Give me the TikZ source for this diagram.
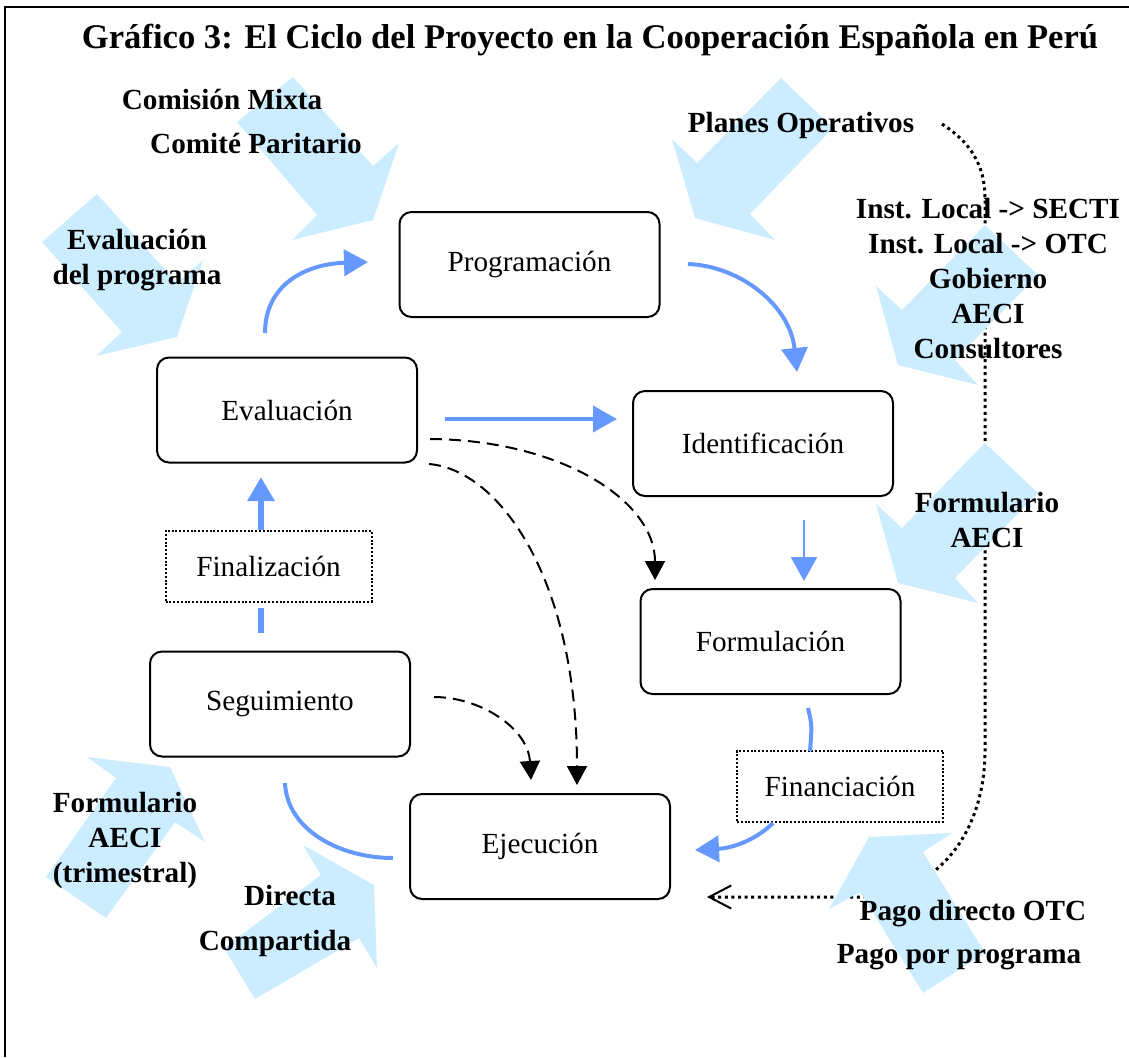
\documentclass[tikz,border=0pt]{standalone}
\usepackage{fontspec}
\setmainfont{Liberation Serif}
\usetikzlibrary{arrows.meta}

\definecolor{paleblue}{RGB}{204,236,255}
\definecolor{flowblue}{RGB}{102,153,255}

\tikzset{
  phase/.style={draw, line width=1pt, rounded corners=6pt, minimum width=130pt, minimum height=52.5pt, inner sep=0pt, font=\fontsize{14.6}{17.5}\selectfont},
  stage/.style={draw, line width=1pt, dash pattern=on 1pt off 0.9pt, minimum width=103pt, minimum height=35.5pt, inner sep=0pt, font=\fontsize{14.6}{17.5}\selectfont},
  actor/.style={anchor=base, align=center, inner sep=0pt, font=\fontsize{14.6}{17.5}\selectfont\bfseries},
  bigarrow/.style={fill=paleblue},
  flow/.style={draw=flowblue, line width=2pt},
  flowtip/.style={flow, -{Triangle[length=12pt,width=13pt]}},
  link/.style={line width=1pt, dash pattern=on 6pt off 3.5pt, -{Triangle[length=9.5pt,width=10pt]}},
  paydot/.style={line width=1.5pt, dash pattern=on 1.5pt off 1.8pt, -{Straight Barb[length=11pt,width=11.5pt,line width=1pt]}}
}

\begin{document}
\begin{tikzpicture}[x=0.5pt,y=-0.5pt]
\useasboundingbox (0,0) rectangle (1129,1057);
\draw[line width=1.3pt] (5,1057) -- (5,7) -- (1129,7);

% dotted payment line (under the big arrows)
\coordinate (payA) at (942,124);
\coordinate (payB) at (707,897);
\draw[paydot] (payA) .. controls (970,142) and (985,165) .. (985,198) -- (985,750)
  .. controls (985,840) and (930,897) .. (860,897) -- (payB);

% big pale arrows
\fill[bigarrow] (293,77) -- (373,166) -- (399,143) -- (373,220) -- (292,240) -- (317,215) -- (237,122) -- cycle;
\fill[bigarrow] (97,194) -- (177,283) -- (203,260) -- (177,337) -- (96,356) -- (122,332) -- (42,242) -- cycle;
\fill[bigarrow] (781,78) -- (833,128) -- (750,214) -- (775,240) -- (695,218) -- (672,139) -- (697,163) -- cycle;
\fill[bigarrow] (985,225) -- (1038,275) -- (955,360) -- (978,385) -- (898,365) -- (876,286) -- (902,310) -- cycle;
\fill[bigarrow] (985,443) -- (1038,493) -- (955,578) -- (978,603) -- (898,583) -- (876,504) -- (902,528) -- cycle;
\fill[bigarrow] (87,757) -- (170,767) -- (205,842) -- (175,822) -- (106,918) -- (46,877) -- (116,778) -- cycle;
\fill[bigarrow] (303,845) -- (374,885) -- (377,968) -- (359,938) -- (255,999) -- (224,948) -- (321,875) -- cycle;
\fill[bigarrow] (869,837) -- (952,833) -- (923,852) -- (985,953) -- (923,993) -- (860,892) -- (829,909) -- cycle;

% title and actors (base = last line)
\node[actor, font=\fontsize{17.3}{20}\selectfont\bfseries] (title) at (590,48) {Gráfico 3: El Ciclo del Proyecto en la Cooperación Española en Perú};
\node[actor] (mixta) at (222,109) {Comisión Mixta};
\node[actor] (paritario) at (256,153) {Comité Paritario};
\node[actor] (evalprog) at (137,284) {Evaluación\\del programa};
\node[actor] (planes) at (801,132) {Planes Operativos};
\node[actor] (agentes) at (988,358) {Inst. Local -> SECTI\\Inst. Local -> OTC\\Gobierno\\AECI\\Consultores};
\node[actor] (formaeci) at (987,547) {Formulario\\AECI};
\node[actor] (formtrim) at (125,882) {Formulario\\AECI\\(trimestral)};
\node[actor] (directa) at (290,905) {Directa};
\node[actor] (compartida) at (275,950) {Compartida};
\node[actor] (pagootc) at (973,920) {Pago directo OTC};
\node[actor] (pagoprog) at (959,963) {Pago por programa};

% phases
\node[phase] (prog) at (529.5,264.5) {Programación};
\node[phase] (eval) at (287,410) {Evaluación};
\node[phase] (ident) at (763,443.5) {Identificación};
\node[phase] (form) at (770.5,641.5) {Formulación};
\node[phase] (seg) at (280,704) {Seguimiento};
\node[phase] (ejec) at (540,846.5) {Ejecución};
\node[stage] (final) at (268.5,566) {Finalización};
\node[stage] (financ) at (840,786.5) {Financiación};

% blue cycle
\draw[flowtip] (265,333) .. controls (265,285) and (305,264) .. (368,262);
\draw[flowtip] (688,264) .. controls (740,266) and (790,305) .. (797,372);
\draw[flowtip] (445,419) -- (617,419);
\draw[flowtip, line width=1.2pt] (804,520) -- (804,581);
\draw[flow] (808,708) .. controls (812,725) .. (810,751);
\draw[flowtip] (773,823) .. controls (758,838) and (735,848) .. (695,850);
\draw[flow] (393,858) .. controls (340,858) and (287,830) .. (285,783);
\draw[flow, line width=3pt] (261,633) -- (261,608);
\draw[flowtip, line width=3pt] (261,530) -- (261,477);

% dashed links
\draw[link] (430,439) .. controls (560,440) and (655,500) .. (655,580);
\draw[link] (429,464) .. controls (500,470) and (577,580) .. (577,785);
\draw[link] (434,697) .. controls (480,697) and (528,728) .. (531,780);
\end{tikzpicture}
\end{document}
